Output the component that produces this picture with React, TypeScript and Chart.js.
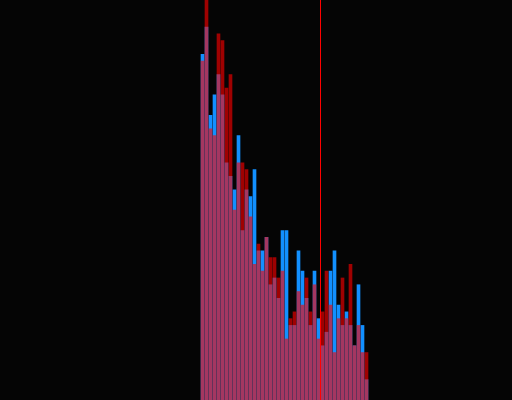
import React, { useEffect, useRef } from "react";
import { Chart, registerables } from "chart.js";

Chart.register(...registerables);

const binCenters = [
  0, 1, 2, 3, 4, 5, 6, 7, 8, 9, 10, 11, 12, 13, 14, 15, 16, 17, 18, 19, 20,
  21, 22, 23, 24, 25, 26, 27, 28, 29, 30, 31, 32, 33, 34, 35, 36, 37, 38, 39,
  40, 41,
];

const blueCounts = [
  51, 55, 42, 45, 48, 45, 35, 33, 31, 39, 25, 31, 30, 34, 22, 22, 24, 17, 18,
  15, 25, 25, 11, 11, 22, 19, 15, 11, 19, 12, 8, 10, 19, 22, 14, 11, 13, 11, 8,
  17, 11, 3,
];

const redCounts = [
  50, 62, 40, 39, 54, 53, 46, 48, 28, 35, 35, 34, 27, 20, 23, 19, 24, 21, 21,
  18, 19, 9, 12, 13, 16, 14, 18, 13, 17, 9, 13, 19, 14, 7, 12, 18, 12, 20, 8,
  11, 7, 7,
];

const markerValue = 29.5;

const markerPlugin = {
  id: "markerLine",
  afterDatasetsDraw(chart: any) {
    const { ctx, chartArea, scales } = chart;
    const px = Math.floor(scales.x.getPixelForValue(markerValue)) + 0.5;
    ctx.save();
    ctx.strokeStyle = "#ff0000";
    ctx.lineWidth = 1;
    ctx.beginPath();
    ctx.moveTo(px, chartArea.top);
    ctx.lineTo(px, chartArea.bottom);
    ctx.stroke();
    ctx.restore();
  },
};

export default function App() {
  const ref = useRef<HTMLCanvasElement | null>(null);

  useEffect(() => {
    if (!ref.current) return;
    const chart = new Chart(ref.current, {
      type: "bar",
      data: {
        datasets: [
          {
            label: "A",
            data: binCenters.map((x, i) => ({ x, y: blueCounts[i] })),
            backgroundColor: "#1290ff",
            borderWidth: 0,
            barThickness: 3,
            grouped: false,
            order: 2,
          },
          {
            label: "B",
            data: binCenters.map((x, i) => ({ x, y: redCounts[i] })),
            backgroundColor: "rgba(255,0,0,0.62)",
            borderWidth: 0,
            barThickness: 3,
            grouped: false,
            order: 1,
          },
        ],
      },
      options: {
        animation: false,
        responsive: true,
        maintainAspectRatio: false,
        layout: { padding: 0 },
        plugins: {
          legend: { display: false },
          tooltip: { enabled: false },
          title: { display: false },
        },
        scales: {
          x: {
            type: "linear",
            display: false,
            offset: false,
            bounds: "data",
            min: -50.625,
            max: 77.375,
          },
          y: {
            display: false,
            min: 0,
            max: 59,
          },
        },
      },
      plugins: [markerPlugin],
    });
    return () => chart.destroy();
  }, []);

  return (
    <div
      style={{
        position: "fixed",
        left: 0,
        top: 0,
        width: 512,
        height: 400,
        background: "#050505",
      }}
    >
      <canvas ref={ref} />
    </div>
  );
}
